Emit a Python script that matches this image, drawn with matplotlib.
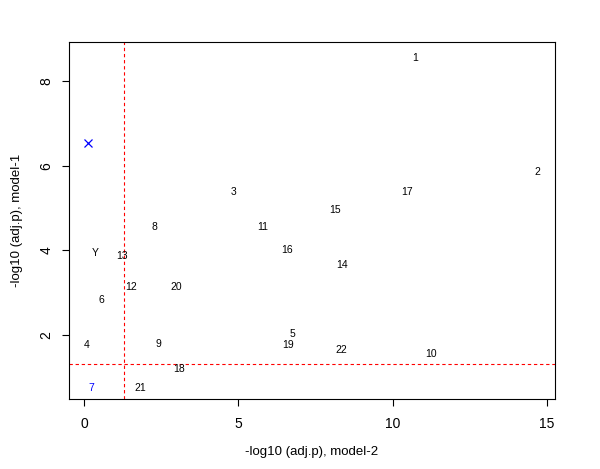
import numpy as np
import matplotlib
matplotlib.use("Agg")
import matplotlib.pyplot as plt

plt.rcParams['font.family'] = ['Liberation Sans', 'DejaVu Sans']

# labelled points: -log10(adj.p) model-2 (x) vs model-1 (y)
labels = ['1', '2', '3', '4', '5', '6', '7', '8', '9', '10', '11',
          '12', '13', '14', '15', '16', '17', '18', '19', '20', '21', '22', 'Y']
x_m2 = [10.73, 14.68, 4.83, 0.09, 6.74, 0.57, 0.23, 2.27, 2.40, 11.23, 5.79,
        1.51, 1.22, 8.35, 8.14, 6.57, 10.48, 3.09, 6.61, 2.98, 1.82, 8.34, 0.37]
y_m1 = [8.61, 5.90, 5.42, 1.81, 2.07, 2.88, 0.79, 4.59, 1.83, 1.59, 4.61,
        3.19, 3.91, 3.71, 5.00, 4.06, 5.43, 1.24, 1.81, 3.19, 0.79, 1.69, 3.99]
label_colors = ['black'] * 6 + ['blue'] + ['black'] * 16

# X chromosome drawn as a marker
x_X, y_X = 0.13, 6.53

cutoff = -np.log10(0.05)

fig = plt.figure(figsize=(6, 4.69), dpi=100)
ax = fig.add_axes([0.115, 0.149, 0.81, 0.761])

ax.plot([x_X], [y_X], marker='x', color='blue', markersize=6, mew=0.9, linestyle='none')
for lab, xv, yv, c in zip(labels, x_m2, y_m1, label_colors):
    # small downward nudge so digit glyphs sit centred on the point
    ax.annotate(lab, (xv, yv), xytext=(0, -1.5), textcoords='offset points',
                ha='center', va='center', fontsize=7.5, color=c)

ax.axvline(cutoff, color='red', linestyle=(0, (3, 2.5)), linewidth=0.8)
ax.axhline(cutoff, color='red', linestyle=(0, (3, 2.5)), linewidth=0.8)

# R-style 4% padding
xr = max(x_m2 + [x_X]) - min(x_m2 + [x_X])
yr = max(y_m1 + [y_X]) - min(y_m1 + [y_X])
ax.set_xlim(min(x_m2 + [x_X]) - 0.04 * xr, max(x_m2 + [x_X]) + 0.04 * xr)
ax.set_ylim(min(y_m1 + [y_X]) - 0.04 * yr, max(y_m1 + [y_X]) + 0.04 * yr)

ax.set_xticks([0, 5, 10, 15])
ax.set_yticks([2, 4, 6, 8])
ax.tick_params(direction='out', length=5, width=0.8, labelsize=10)
ax.tick_params(axis='x', pad=8)
ax.tick_params(axis='y', pad=6)
plt.setp(ax.get_yticklabels(), rotation=90, va='center')
for s in ax.spines.values():
    s.set_linewidth(0.8)

ax.set_xlabel('-log10 (adj.p), model-2', fontsize=9.5, labelpad=11)
ax.set_ylabel('-log10 (adj.p), model-1', fontsize=9.5, labelpad=12)

fig.savefig('out.png', dpi=100)
